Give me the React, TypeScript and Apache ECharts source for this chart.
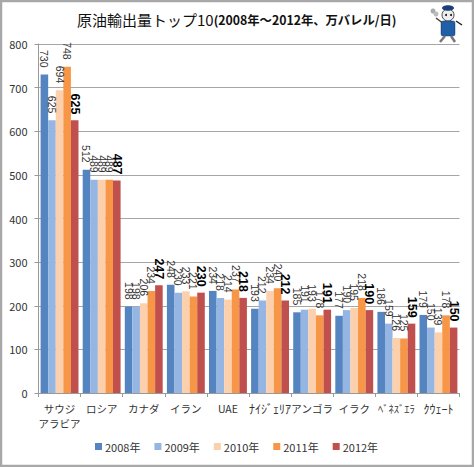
import React, { useEffect, useRef } from "react";
import * as echarts from "echarts";

const categories = ["サウジ\nアラビア", "ロシア", "カナダ", "イラン", "UAE", "ﾅｲｼﾞｪﾘｱ", "アンゴラ", "イラク", "ﾍﾞﾈｽﾞｴﾗ", "ｸｳｪｰﾄ"];
const v2008 = [730, 512, 198, 248, 234, 193, 185, 177, 186, 179];
const v2009 = [625, 489, 198, 230, 218, 212, 191, 190, 159, 150];
const v2010 = [694, 489, 206, 233, 214, 234, 193, 195, 126, 139];
const v2011 = [748, 489, 234, 221, 237, 240, 178, 218, 125, 178];
const v2012 = [625, 487, 247, 230, 218, 212, 191, 190, 159, 150];
const seriesNames = ["2008年", "2009年", "2010年", "2011年", "2012年"];
const seriesValues = [v2008, v2009, v2010, v2011, v2012];
const colors = ["#5585c0", "#95b6e2", "#fcd0ad", "#f79646", "#c0504d"];
const FONT = "'Noto Sans CJK JP', 'Noto Sans', sans-serif";

export default function App() {
  const ref = useRef<HTMLDivElement>(null);
  useEffect(() => {
    const chart = echarts.init(ref.current!, null, { renderer: "svg" });
    chart.setOption({
      animation: false,
      backgroundColor: "#fff",
      textStyle: { fontFamily: FONT },
      title: {
        text: "{a|原油輸出量トップ10}{b|(2008年～2012年、万バレル/日)}",
        left: 72,
        top: 7,
        textStyle: {
          rich: {
            a: { fontSize: 15, fontWeight: "normal", fontFamily: FONT, color: "#111" },
            b: { fontSize: 12.3, fontWeight: "bold", fontFamily: FONT, color: "#111" },
          },
        },
      },
      legend: {
        left: 90,
        top: 436,
        itemWidth: 7,
        itemHeight: 7,
        itemGap: 14,
        textStyle: { fontSize: 11, color: "#333", fontFamily: FONT, padding: [0, 0, 0, -2] },
        icon: "rect",
        data: seriesNames,
      },
      grid: { left: 38.5, top: 44, width: 421, height: 349 },
      xAxis: {
        type: "category",
        data: categories,
        axisLine: { lineStyle: { color: "#999", width: 1 } },
        axisTick: { show: true, length: 4, lineStyle: { color: "#999" } },
        axisLabel: {
          interval: 0,
          fontSize: 10.5,
          color: "#333",
          margin: 8,
          lineHeight: 15,
          hideOverlap: false,
          formatter: (name: string) =>
            /^[\uFF61-\uFF9F]+$/.test(name) ? `{${name.includes("ﾍ") ? "v" : "h"}|${name}}` : name,
          rich: {
            h: { fontSize: 12, color: "#333", fontFamily: FONT },
            v: { fontSize: 10.5, color: "#333", fontFamily: FONT },
          },
        },
      },
      yAxis: {
        type: "value",
        min: 0,
        max: 800,
        interval: 100,
        axisLine: { show: true, lineStyle: { color: "#999" } },
        axisTick: { show: true, length: 4, lineStyle: { color: "#999" } },
        axisLabel: { fontSize: 11, color: "#333", margin: 11 },
        splitLine: { lineStyle: { color: "#a6a6a6", width: 1 } },
      },
      series: seriesValues.map((data, i) => ({
        name: seriesNames[i],
        type: "bar",
        data,
        barGap: 0,
        barCategoryGap: "10%",
        itemStyle: { color: colors[i] },
        label: {
          show: true,
          position: "top",
          rotate: -90,
          align: "right",
          verticalAlign: "middle",
          distance: i === 4 ? 6 : 7,
          fontFamily: "'Liberation Sans', sans-serif",
          fontSize: i === 4 ? 12.5 : 10.5,
          fontWeight: i === 4 ? "bold" : "normal",
          color: i === 4 ? "#000" : "#333",
        },
      })),
      graphic: [
        {
          type: "rect",
          silent: true,
          shape: { x: 1, y: 1, width: 472, height: 465 },
          style: { fill: "none", stroke: "#a8a8a8", lineWidth: 2.5 },
        },
        {
          type: "group",
          x: 430,
          y: 3,
          silent: true,
          children: [
            { type: "circle", shape: { cx: 3, cy: 8, r: 2.5 }, style: { fill: "#aaa" } },
            { type: "circle", shape: { cx: 6, cy: 11, r: 2.5 }, style: { fill: "#bbb" } },
            { type: "line", shape: { x1: 6, y1: 15, x2: 14, y2: 21 }, style: { stroke: "#5a3a22", lineWidth: 1.5 } },
            { type: "line", shape: { x1: 26, y1: 18, x2: 32, y2: 22 }, style: { stroke: "#222", lineWidth: 1.5 } },
            { type: "circle", shape: { cx: 18, cy: 12, r: 6 }, style: { fill: "#eee", stroke: "#222", lineWidth: 0.8 } },
            { type: "ellipse", shape: { cx: 18, cy: 5, rx: 6, ry: 2.8 }, style: { fill: "#1d3f78" } },
            { type: "circle", shape: { cx: 16, cy: 12, r: 1 }, style: { fill: "#111" } },
            { type: "circle", shape: { cx: 21, cy: 12, r: 1 }, style: { fill: "#111" } },
            { type: "rect", shape: { x: 11, y: 18, width: 14, height: 15, r: 2 }, style: { fill: "#1f5fa8", stroke: "#123", lineWidth: 0.4 } },
            { type: "line", shape: { x1: 15, y1: 33, x2: 10, y2: 39 }, style: { stroke: "#777", lineWidth: 2.5 } },
            { type: "line", shape: { x1: 21, y1: 33, x2: 25, y2: 39 }, style: { stroke: "#777", lineWidth: 2.5 } },
          ],
        },
      ],
    });
    return () => chart.dispose();
  }, []);
  return <div ref={ref} style={{ position: "absolute", left: 0, top: 0, width: 474, height: 467 }} />;
}
